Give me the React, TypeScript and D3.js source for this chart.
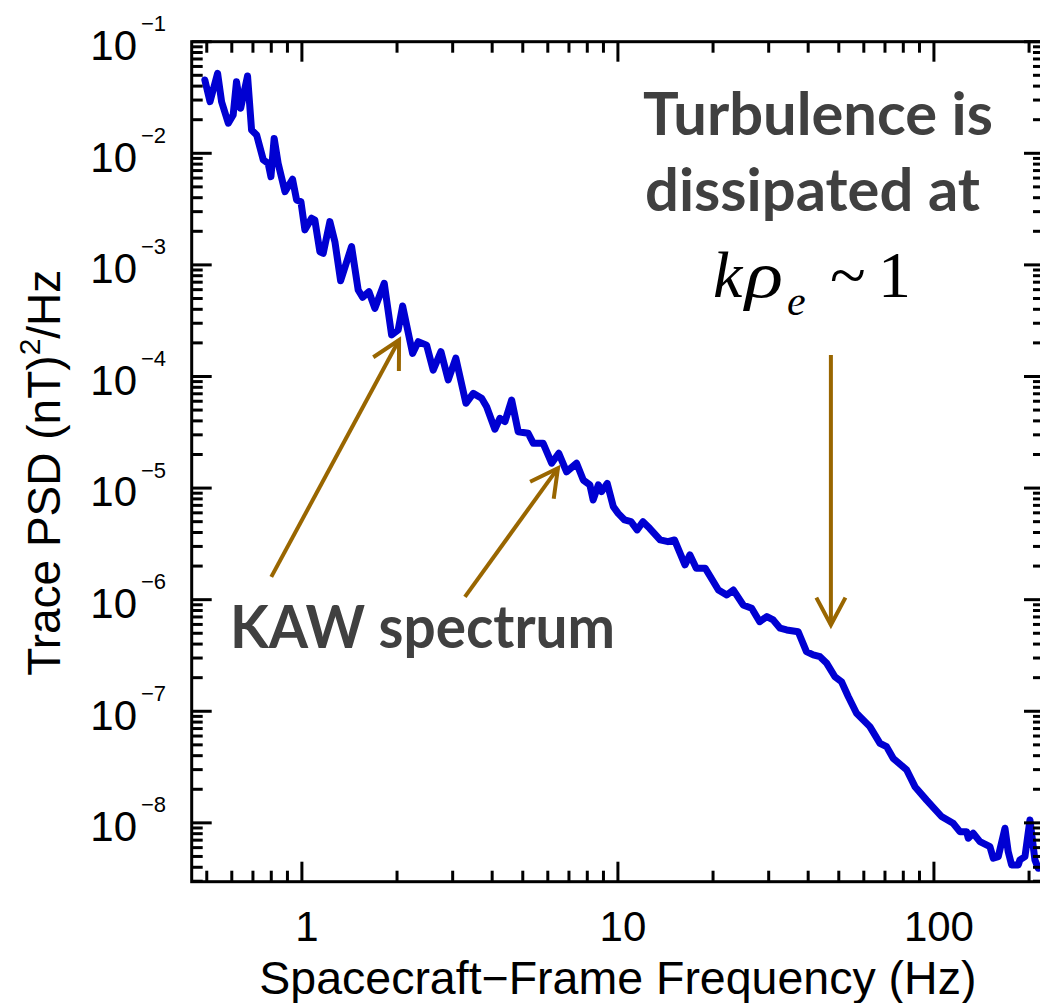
import React from 'react';
import * as d3 from 'd3';

// ---- data ----
const freqHz = [
  0.493, 0.512, 0.541, 0.557, 0.585, 0.606, 0.621, 0.640, 0.673, 0.693,
  0.719, 0.755, 0.782, 0.798, 0.817, 0.841, 0.884, 0.934, 0.962, 0.993,
  1.022, 1.073, 1.099, 1.140, 1.168, 1.226, 1.272, 1.326, 1.436, 1.507,
  1.556, 1.630, 1.702, 1.822, 1.922, 2.017, 2.083, 2.240, 2.334, 2.481,
  2.603, 2.754, 2.904, 3.070, 3.304, 3.485, 3.705, 3.842, 4.08, 4.233,
  4.390, 4.610, 4.836, 5.20, 5.40, 5.80, 6.17, 6.50, 6.88, 7.40,
  7.77, 8.15, 8.35, 8.67, 8.88, 9.25, 9.67, 10.02, 10.5, 11.0,
  11.5, 12.0, 12.6, 13.6, 14.4, 15.1, 16.3, 16.9, 17.7, 18.9,
  20.8, 22.1, 23.2, 24.9, 26.5, 28.1, 29.6, 31.0, 32.6, 34.2,
  37.2, 39.5, 41.5, 43.6, 45.8, 48.6, 51.0, 53.6, 56.9, 62.7,
  67.5, 70.8, 74.3, 82.0, 87.1, 94.8, 105.7, 115, 120.8, 126.9,
  128.4, 133.1, 139.8, 150.4, 154.1, 159.8, 167.8, 171.8, 176.1, 184.9,
  187.1, 194.1, 201.3, 208.7, 213.8, 222
];
const tracePsd = [
  4.54e-2, 2.90e-2, 5.21e-2, 2.90e-2, 1.86e-2, 2.20e-2, 4.38e-2, 2.53e-2, 4.93e-2, 1.62e-2,
  1.46e-2, 8.71e-3, 8.13e-3, 6.17e-3, 1.36e-2, 8.13e-3, 4.53e-3, 5.85e-3, 3.82e-3, 3.68e-3,
  2.06e-3, 2.62e-3, 2.52e-3, 1.31e-3, 1.27e-3, 2.44e-3, 1.61e-3, 7.21e-4, 1.46e-3, 5.96e-4,
  5.13e-4, 5.75e-4, 4.08e-4, 6.84e-4, 2.36e-4, 2.61e-4, 4.28e-4, 1.61e-4, 2.05e-4, 1.91e-4,
  1.14e-4, 1.67e-4, 9.31e-5, 1.46e-4, 5.75e-5, 7.06e-5, 6.38e-5, 5.36e-5, 3.37e-5, 4.22e-5,
  3.94e-5, 6.15e-5, 3.20e-5, 3.10e-5, 2.52e-5, 2.52e-5, 1.67e-5, 2.05e-5, 1.40e-5, 1.67e-5,
  1.18e-5, 1.07e-5, 7.82e-6, 1.07e-5, 9.29e-6, 1.10e-5, 6.81e-6, 5.94e-6, 5.18e-6, 5.00e-6,
  4.22e-6, 5.00e-6, 4.36e-6, 3.43e-6, 3.31e-6, 3.43e-6, 2.05e-6, 2.52e-6, 1.91e-6, 1.91e-6,
  1.22e-6, 1.10e-6, 1.22e-6, 8.97e-7, 8.37e-7, 6.35e-7, 7.05e-7, 6.58e-7, 5.55e-7, 5.35e-7,
  5.16e-7, 3.42e-7, 3.20e-7, 3.08e-7, 2.69e-7, 2.04e-7, 1.84e-7, 1.35e-7, 9.59e-8, 7.28e-8,
  5.16e-8, 4.82e-8, 3.79e-8, 2.98e-8, 2.11e-8, 1.60e-8, 1.14e-8, 9.91e-9, 8.34e-9, 8.34e-9,
  7.28e-9, 8.07e-9, 6.79e-9, 6.12e-9, 4.82e-9, 4.98e-9, 8.95e-9, 5.52e-9, 4.20e-9, 4.20e-9,
  4.66e-9, 4.98e-9, 1.06e-8, 4.66e-9, 3.92e-9, 4.0e-9
];

const xMajorTicks = [1, 10, 100];
const xTickLabels = ['1', '10', '100'];
const yExponents = [-1, -2, -3, -4, -5, -6, -7, -8];

const xTitle = 'Spacecraft\u2212Frame Frequency (Hz)';
const yTitleMain = 'Trace PSD (nT)';
const yTitleSup = '2';
const yTitleEnd = '/Hz';

// annotation arrows in data space: [fromFreq, fromPsd, toFreq, toPsd]
const kawArrows = [
  [0.80, 1.6e-6, 2.03, 2.12e-4],
  [3.28, 1.06e-6, 6.46, 1.51e-5],
];
const dissipationArrow = [47.2, 1.56e-4, 47.2, 5.93e-7];

const annoLine1 = 'Turbulence is';
const annoLine2 = 'dissipated at';
const kawLabel = 'KAW spectrum';

export default function App() {
  const W = 1040;
  const H = 1003;
  const left = 191.7, right = 1044, top = 41.7, bottom = 881.7;

  const x = d3.scaleLog().domain([0.448, 223]).range([left, right]);
  const y = d3.scaleLog().domain([2.97e-9, 0.1]).range([bottom, top]);

  const pts: [number, number][] = freqHz.map((f, i) => [f, tracePsd[i]]);
  const line = d3.line<[number, number]>().x(d => x(d[0])).y(d => y(d[1]));

  // ticks
  const xMinor: number[] = [];
  [0.1, 1, 10, 100].forEach(dec => {
    for (let k = 2; k <= 9; k++) {
      const v = dec * k;
      if (v >= 0.448 && v <= 223) xMinor.push(v);
    }
  });
  const yMinor: number[] = [];
  for (let e = -9; e <= -2; e++) {
    for (let k = 2; k <= 9; k++) {
      const v = k * Math.pow(10, e);
      if (v >= 2.97e-9 && v <= 0.1) yMinor.push(v);
    }
  }
  const majLen = 20, minLen = 11;
  const axisColor = '#000';
  const sw = 3;

  const arrowColor = '#996600';
  const arrowHead = (x1: number, y1: number, x2: number, y2: number) => {
    const ang = Math.atan2(y1 - y2, x1 - x2);
    const L = 31, a = (28 * Math.PI) / 180;
    const p1 = [x2 + L * Math.cos(ang + a), y2 + L * Math.sin(ang + a)];
    const p2 = [x2 + L * Math.cos(ang - a), y2 + L * Math.sin(ang - a)];
    return `M${p1[0]},${p1[1]}L${x2},${y2}L${p2[0]},${p2[1]}`;
  };
  const allArrows = [...kawArrows, dissipationArrow];

  const sansFont = 'Liberation Sans, Arial, Helvetica, sans-serif';
  const annoFont = 'Lato, "Open Sans", sans-serif';

  return (
    <svg width={W} height={H} style={{ position: 'absolute', left: 0, top: 0, background: '#fff' }}>
      <rect x={0} y={0} width={W} height={H} fill="#fff" />
      <defs>
        <clipPath id="plotclip">
          <rect x={left} y={top} width={right - left} height={bottom - top} />
        </clipPath>
      </defs>

      {/* data line */}
      <path d={line(pts) || ''} fill="none" stroke="#0000d2" strokeWidth={7}
        strokeLinejoin="round" strokeLinecap="round" clipPath="url(#plotclip)" />

      {/* frame */}
      <rect x={left} y={top} width={right - left} height={bottom - top} fill="none" stroke={axisColor} strokeWidth={sw} />

      {/* x ticks bottom & top */}
      {xMajorTicks.map(v => (
        <g key={'xM' + v}>
          <line x1={x(v)} x2={x(v)} y1={bottom} y2={bottom - majLen} stroke={axisColor} strokeWidth={sw} />
          <line x1={x(v)} x2={x(v)} y1={top} y2={top + majLen} stroke={axisColor} strokeWidth={sw} />
        </g>
      ))}
      {xMinor.map(v => (
        <g key={'xm' + v}>
          <line x1={x(v)} x2={x(v)} y1={bottom} y2={bottom - minLen} stroke={axisColor} strokeWidth={sw} />
          <line x1={x(v)} x2={x(v)} y1={top} y2={top + minLen} stroke={axisColor} strokeWidth={sw} />
        </g>
      ))}
      {/* y ticks left & right */}
      {yExponents.map(e => (
        <g key={'yM' + e}>
          <line x1={left} x2={left + majLen} y1={y(Math.pow(10, e))} y2={y(Math.pow(10, e))} stroke={axisColor} strokeWidth={sw} />
          <line x1={right} x2={right - majLen} y1={y(Math.pow(10, e))} y2={y(Math.pow(10, e))} stroke={axisColor} strokeWidth={sw} />
        </g>
      ))}
      {yMinor.map(v => (
        <g key={'ym' + v}>
          <line x1={left} x2={left + minLen} y1={y(v)} y2={y(v)} stroke={axisColor} strokeWidth={sw} />
          <line x1={right} x2={right - minLen} y1={y(v)} y2={y(v)} stroke={axisColor} strokeWidth={sw} />
        </g>
      ))}

      {/* x tick labels */}
      {xMajorTicks.map((v, i) => (
        <text key={'xl' + v} x={x(v) + 5} y={941} textAnchor="middle" fontFamily={sansFont} fontSize={42} fill="#000">
          {xTickLabels[i]}
        </text>
      ))}
      {/* y tick labels */}
      {yExponents.map(e => {
        const yy = y(Math.pow(10, e));
        return (
          <g key={'yl' + e} fontFamily={sansFont} fill="#000">
            <text x={137} y={yy + 18.3} textAnchor="end" fontSize={42}>10</text>
            <text x={141} y={yy - 10.5} fontSize={22}>{'\u2212' + Math.abs(e)}</text>
          </g>
        );
      })}

      {/* axis titles */}
      <text x={(left + right) / 2} y={994} textAnchor="middle" fontFamily={sansFont} fontSize={46.5} fill="#000">
        {xTitle}
      </text>
      <text transform={`translate(60,${(top + bottom) / 2 + 11}) rotate(-90)`} textAnchor="middle"
        fontFamily={sansFont} fontSize={46} fill="#000">
        {yTitleMain}
        <tspan fontSize={30} dy={-20}>{yTitleSup}</tspan>
        <tspan dy={20}>{yTitleEnd}</tspan>
      </text>

      {/* arrows */}
      {allArrows.map((a, i) => {
        const x1 = x(a[0]), y1 = y(a[1]), x2 = x(a[2]), y2 = y(a[3]);
        return (
          <g key={'ar' + i} stroke={arrowColor} strokeWidth={4} fill="none" strokeLinecap="butt">
            <line x1={x1} y1={y1} x2={x2} y2={y2} />
            <path d={arrowHead(x1, y1, x2, y2)} />
          </g>
        );
      })}

      {/* annotation text */}
      <g fontFamily={annoFont} fontWeight={700} fill="#404040" fontSize={60}>
        <text x={643} y={135} textLength={350} lengthAdjust="spacingAndGlyphs">{annoLine1}</text>
        <text x={645} y={211} textLength={335} lengthAdjust="spacingAndGlyphs">{annoLine2}</text>
        <text x={230} y={648} textLength={385} lengthAdjust="spacingAndGlyphs">{kawLabel}</text>
      </g>
      <g fontFamily='"Liberation Serif", "Times New Roman", serif' fill="#000">
        <text x={713} y={297} fontSize={66} fontStyle="italic">k</text>
        <text transform="translate(745,297) scale(1.2,1)" fontSize={66} fontStyle="italic">{'\u03c1'}</text>
        <text x={787} y={315} fontSize={42} fontStyle="italic">e</text>
        <text x={830} y={297} fontSize={66}>~</text>
        <text x={878} y={297} fontSize={66}>1</text>
      </g>
    </svg>
  );
}
